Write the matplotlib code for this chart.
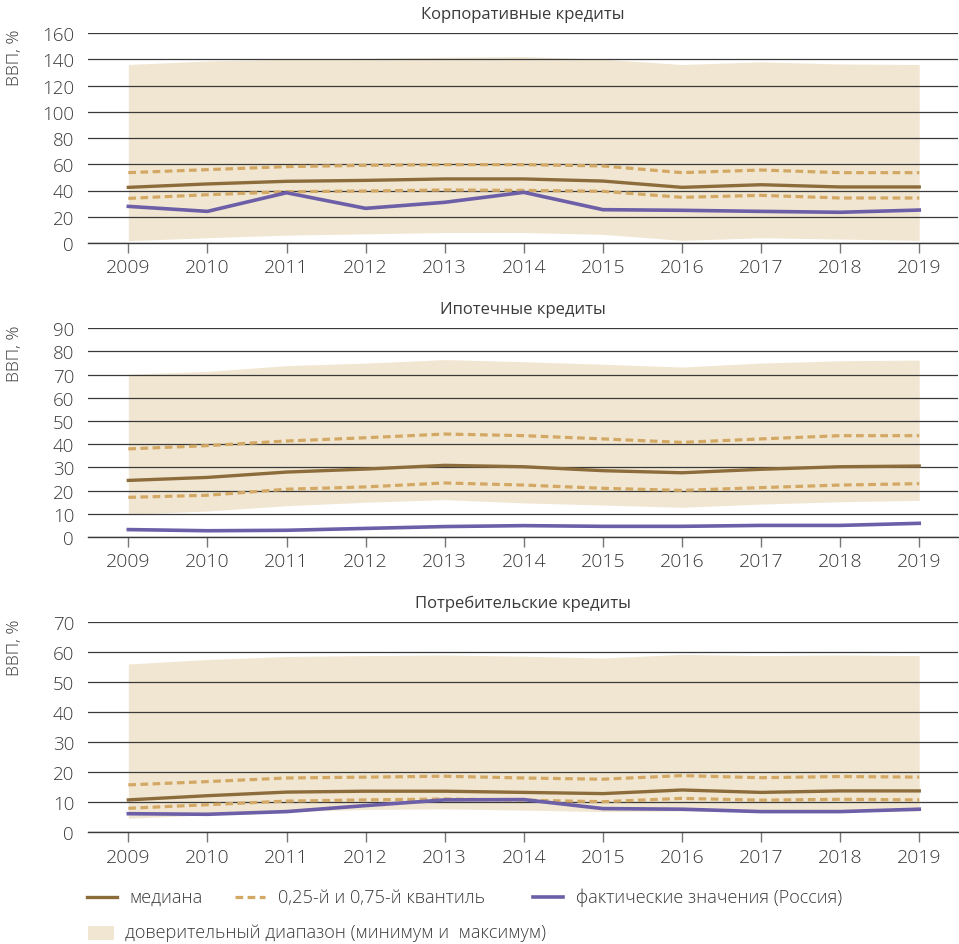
import matplotlib
matplotlib.use("Agg")
import matplotlib.pyplot as plt
from matplotlib.lines import Line2D
from matplotlib.patches import Rectangle

plt.rcParams['font.family'] = ['Open Sans', 'DejaVu Sans']
plt.rcParams['font.weight'] = 'light'

years = [2009, 2010, 2011, 2012, 2013, 2014, 2015, 2016, 2017, 2018, 2019]

# Корпоративные кредиты
corp_max = [136, 138.7, 140, 140.7, 141.5, 142, 140, 136, 138, 136.4, 136]
corp_min = [1.8, 4, 6, 7, 8, 8, 6.6, 2, 4, 3, 2]
corp_q75 = [53.6, 55.9, 58.2, 59.2, 59.7, 59.7, 58.7, 53.6, 55.6, 53.6, 53.6]
corp_med = [42.4, 45, 47, 47.7, 48.8, 48.8, 47.2, 42.4, 44.4, 42.7, 42.7]
corp_q25 = [34, 36.8, 39.1, 39.6, 40.4, 40.1, 39.4, 34.8, 36.3, 34.3, 34.3]
corp_rus = [27.9, 24.1, 38.3, 26.4, 31, 38.6, 25.4, 24.9, 24.1, 23.4, 25.1]

# Ипотечные кредиты
mort_max = [70.2, 71.4, 73.9, 75, 76.5, 75.6, 74.5, 73.3, 75, 76, 76.3]
mort_min = [9.8, 11.2, 13.5, 15, 16.1, 14.7, 13.8, 12.8, 14.2, 15.2, 15.8]
mort_q75 = [38, 39.4, 41.4, 42.8, 44.4, 43.7, 42.3, 40.8, 42.3, 43.7, 43.7]
mort_med = [24.4, 25.7, 28, 29.3, 30.9, 30.3, 28.6, 27.7, 29.2, 30.3, 30.6]
mort_q25 = [17.1, 18, 20.6, 21.6, 23.3, 22.4, 21, 20.1, 21.3, 22.4, 23]
mort_rus = [3.2, 2.7, 2.9, 3.7, 4.5, 4.9, 4.6, 4.6, 5, 5, 5.9]

# Потребительские кредиты
cons_max = [56.1, 57.6, 58.6, 58.9, 59.1, 58.7, 58.1, 59.3, 58.9, 59.1, 58.9]
cons_min = [4.7, 5.8, 6.9, 7.6, 7.8, 7.4, 6.9, 7.1, 7.2, 7.3, 7.1]
cons_q75 = [15.8, 16.9, 18.1, 18.4, 18.7, 18.1, 17.7, 18.9, 18.2, 18.6, 18.4]
cons_med = [10.8, 12.2, 13.4, 13.7, 13.7, 13.3, 12.9, 14.1, 13.3, 13.8, 13.8]
cons_q25 = [8, 9.2, 10.4, 10.8, 11.1, 10.7, 10.2, 11.3, 10.7, 11, 10.8]
cons_rus = [6.2, 6, 6.9, 8.9, 10.8, 10.9, 7.9, 7.7, 6.9, 6.9, 7.7]

titles = ["Корпоративные кредиты", "Ипотечные кредиты", "Потребительские кредиты"]
y_ticks = [list(range(0, 161, 20)), list(range(0, 91, 10)), list(range(0, 71, 10))]
ylabel = "ВВП, %"

legend_labels = ["медиана", "0,25-й и 0,75-й квантиль",
                 "фактические значения (Россия)",
                 "доверительный диапазон (минимум и  максимум)"]

C_FILL = "#F1E6D1"
C_MED = "#8C6C3B"
C_Q = "#D3A864"
C_RUS = "#6C5FA8"
C_GRID = "#3a3a3a"
C_TEXT = "#3a3a3a"

panels = [
    (corp_max, corp_min, corp_q75, corp_med, corp_q25, corp_rus),
    (mort_max, mort_min, mort_q75, mort_med, mort_q25, mort_rus),
    (cons_max, cons_min, cons_q75, cons_med, cons_q25, cons_rus),
]

W, H = 959, 945
fig = plt.figure(figsize=(W / 100, H / 100), dpi=100)

left, right = 88, 958
tops_bottoms = [(34, 244), (329.3, 538), (623.3, 833.3)]

for i, (data, (t, b)) in enumerate(zip(panels, tops_bottoms)):
    vmax, vmin, q75, med, q25, rus = data
    ax = fig.add_axes([left / W, 1 - b / H, (right - left) / W, (b - t) / H])
    ax.fill_between(years, vmin, vmax, color=C_FILL, lw=0, zorder=1)
    ax.plot(years, q75, color=C_Q, lw=2.3, dashes=(2.4, 1.4), zorder=3)
    ax.plot(years, q25, color=C_Q, lw=2.3, dashes=(2.4, 1.4), zorder=3)
    ax.plot(years, med, color=C_MED, lw=2.4, zorder=4)
    ax.plot(years, rus, color=C_RUS, lw=2.6, zorder=5)

    ax.set_xlim(2008.49, 2019.49)
    ax.set_ylim(y_ticks[i][0], y_ticks[i][-1])
    ax.set_yticks(y_ticks[i])
    ax.set_xticks(years)
    ax.set_xticklabels([str(y) for y in years])
    ax.set_axisbelow('line')
    ax.yaxis.grid(True, color=C_GRID, lw=0.9)
    ax.xaxis.grid(False)
    for s in ("left", "right", "top"):
        ax.spines[s].set_visible(False)
    ax.spines["bottom"].set_color(C_GRID)
    ax.spines["bottom"].set_linewidth(1.0)
    ax.tick_params(axis='y', length=0, pad=10, labelsize=13.5, labelcolor=C_TEXT)
    ax.tick_params(axis='x', length=7, width=1, color="#777777", pad=4,
                   labelsize=14, labelcolor=C_TEXT, direction='out')
    ax.set_title(titles[i], fontsize=12, color=C_TEXT, pad=11)
    fig.text(15 / W, 1 - (t - 4) / H, ylabel, rotation=90, ha='center', va='top',
             fontsize=12.5, color=C_TEXT)

# Legend
def fy(py):
    return 1 - py / H

row1, row2 = 898, 933
fs_leg = 13.1
fig.add_artist(Line2D([87 / W, 117 / W], [fy(row1), fy(row1)], color=C_MED, lw=2.4,
                      transform=fig.transFigure))
fig.text(129 / W, fy(row1), legend_labels[0], va='center', ha='left', fontsize=fs_leg, color=C_TEXT)
fig.add_artist(Line2D([235 / W, 265 / W], [fy(row1), fy(row1)], color=C_Q, lw=2.3,
                      dashes=(2.4, 1.4), transform=fig.transFigure))
fig.text(278 / W, fy(row1), legend_labels[1], va='center', ha='left', fontsize=fs_leg, color=C_TEXT)
fig.add_artist(Line2D([533 / W, 563 / W], [fy(row1), fy(row1)], color=C_RUS, lw=2.6,
                      transform=fig.transFigure))
fig.text(576 / W, fy(row1), legend_labels[2], va='center', ha='left', fontsize=fs_leg, color=C_TEXT)
fig.add_artist(Rectangle((88 / W, fy(941)), 26 / W, 14 / H, color=C_FILL, lw=0,
                         transform=fig.transFigure))
fig.text(125 / W, fy(row2), legend_labels[3], va='center', ha='left', fontsize=fs_leg, color=C_TEXT)

fig.savefig("out.png", dpi=100)
